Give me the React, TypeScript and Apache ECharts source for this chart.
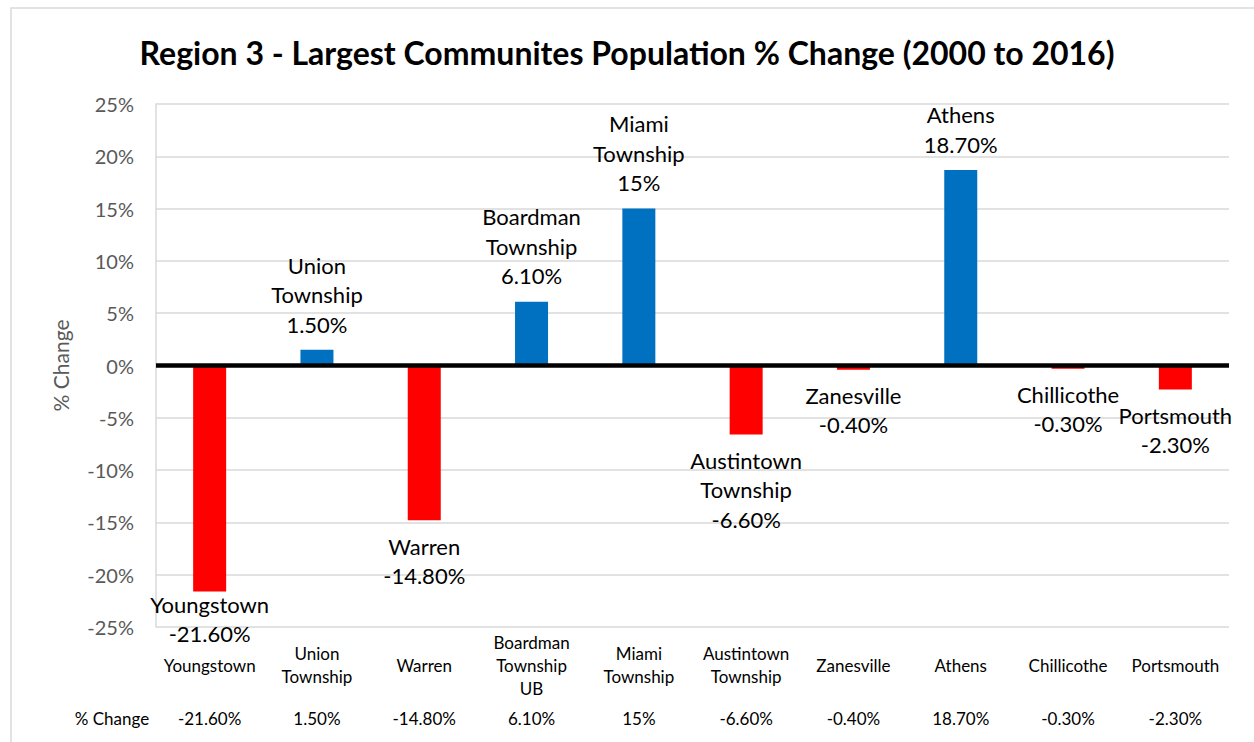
import React, { useEffect, useRef } from "react";
import * as echarts from "echarts";

const categories = [
  "Youngstown",
  "Union\nTownship",
  "Warren",
  "Boardman\nTownship\nUB",
  "Miami\nTownship",
  "Austintown\nTownship",
  "Zanesville",
  "Athens",
  "Chillicothe",
  "Portsmouth",
];
const barLabelNames = [
  "Youngstown",
  "Union\nTownship",
  "Warren",
  "Boardman\nTownship",
  "Miami\nTownship",
  "Austintown\nTownship",
  "Zanesville",
  "Athens",
  "Chillicothe",
  "Portsmouth",
];
const values = [-21.6, 1.5, -14.8, 6.1, 15, -6.6, -0.4, 18.7, -0.3, -2.3];
const valueLabels = ["-21.60%", "1.50%", "-14.80%", "6.10%", "15%", "-6.60%", "-0.40%", "18.70%", "-0.30%", "-2.30%"];
const yTicks = { min: -25, max: 25, interval: 5 };
const titleText = "Region 3 - Largest Communites Population % Change (2000 to 2016)";
const rowHeader = "% Change";

const FONT = "Lato, 'Open Sans', sans-serif";

export default function App() {
  const ref = useRef<HTMLDivElement>(null);
  useEffect(() => {
    if (!ref.current) return;
    const chart = echarts.init(ref.current, undefined, { renderer: "svg" });
    const data = values.map((v, i) => ({
      value: v,
      itemStyle: { color: v >= 0 ? "#0070C0" : "#FF0000" },
      label: i === 0 ? { offset: [0, -13] } : {},
    }));
    chart.setOption({
      animation: false,
      backgroundColor: "#ffffff",
      title: {
        text: titleText,
        left: "center",
        top: 31,
        textStyle: { fontFamily: FONT, fontWeight: "bold", fontSize: 32, color: "#000" },
      },
      graphic: [
        {
          type: "rect",
          shape: { x: 11, y: 8, width: 1400, height: 900 },
          style: { fill: "none", stroke: "#d9d9d9", lineWidth: 1.5 },
          silent: true,
        },
        {
          type: "text",
          x: 112,
          y: 718,
          style: {
            text: rowHeader,
            fontFamily: FONT,
            fontSize: 17,
            fill: "#000",
            align: "center",
            verticalAlign: "middle",
          },
        },
      ],
      grid: { left: 156, right: 25, top: 104, bottom: 115, containLabel: false },
      xAxis: [
        {
          type: "category",
          data: categories,
          position: "bottom",
          axisLine: { show: false },
          axisTick: { show: false },
          axisLabel: {
            interval: 0,
            margin: 38,
            verticalAlign: "middle",
            lineHeight: 23,
            fontSize: 17,
            fontFamily: FONT,
            color: "#000",
          },
        },
        {
          type: "category",
          data: categories,
          position: "bottom",
          offset: 0,
          axisLine: { show: false },
          axisTick: { show: false },
          axisLabel: {
            interval: 0,
            margin: 91,
            verticalAlign: "middle",
            fontSize: 17,
            fontFamily: FONT,
            color: "#000",
            formatter: (_v: string, i: number) => valueLabels[i],
          },
        },
      ],
      yAxis: {
        type: "value",
        min: yTicks.min,
        max: yTicks.max,
        interval: yTicks.interval,
        name: "% Change",
        nameLocation: "middle",
        nameGap: 85,
        nameRotate: 90,
        nameTextStyle: { fontFamily: FONT, fontSize: 21, color: "#595959" },
        axisLine: { show: true, lineStyle: { color: "#d9d9d9", width: 1.5 } },
        axisTick: { show: false },
        axisLabel: {
          formatter: "{value}%",
          fontFamily: FONT,
          fontSize: 20,
          color: "#595959",
          margin: 22,
        },
        splitLine: { lineStyle: { color: "#d9d9d9", width: 1.5 } },
      },
      series: [
        {
          type: "bar",
          xAxisIndex: 0,
          data,
          barWidth: 33,
          label: {
            show: true,
            position: "outside",
            distance: 11,
            fontFamily: FONT,
            fontSize: 22,
            lineHeight: 29.5,
            color: "#000",
            align: "center",
            formatter: (p: any) => `${barLabelNames[p.dataIndex]}\n${valueLabels[p.dataIndex]}`,
          },
          markLine: {
            silent: true,
            symbol: ["none", "none"],
            label: { show: false },
            lineStyle: { color: "#000", width: 4.5, type: "solid" },
            data: [{ yAxis: 0 }],
          },
        },
      ],
    });
    return () => chart.dispose();
  }, []);
  return (
    <div
      ref={ref}
      style={{ position: "fixed", left: 0, top: 0, width: 1254, height: 742 }}
    />
  );
}
